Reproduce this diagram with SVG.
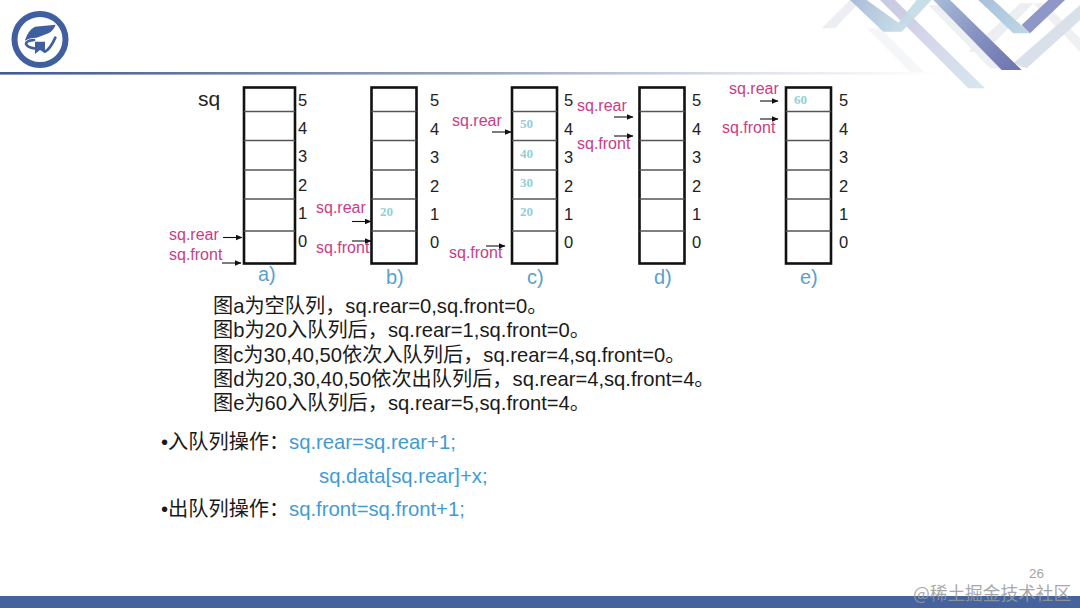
<svg xmlns="http://www.w3.org/2000/svg" width="1080" height="608" viewBox="0 0 1080 608">
<defs>
<style>
text{font-family:"Liberation Sans","Noto Sans CJK SC",sans-serif}
.box{fill:#fff;stroke:#111;stroke-width:2.6}
.div{stroke:#555;stroke-width:1.3}
.n{font-size:16.5px;fill:#222}
.p{font-size:16px;fill:#c93d86}
.v{font-family:"Liberation Serif",serif;font-size:13px;font-weight:bold;fill:#8fd0d8}
.cap{font-size:20px;fill:#5a9fd0}
.t{font-size:20.2px;fill:#1a1a1a}
.code{font-size:20.3px;fill:#3f9bd6}
.arr{stroke:#111;stroke-width:1.1;fill:none;marker-end:url(#ah)}
</style>
<marker id="ah" markerUnits="userSpaceOnUse" markerWidth="7" markerHeight="6" refX="6.5" refY="3" orient="auto"><path d="M0 0L7 3L0 6Z" fill="#111"/></marker>
<linearGradient id="rule" x1="0" x2="1" y1="0" y2="0"><stop offset="0" stop-color="#3f5a98"/><stop offset=".2" stop-color="#64769f"/><stop offset=".5" stop-color="#9aa6bd"/><stop offset=".8" stop-color="#dfe3ea"/><stop offset="1" stop-color="#fff"/></linearGradient>
<linearGradient id="g1" gradientUnits="userSpaceOnUse" x1="400" y1="0" x2="640" y2="210"><stop offset="0" stop-color="#a9bcd9"/><stop offset=".5" stop-color="#8793c2"/><stop offset="1" stop-color="#6e76b0"/></linearGradient>
<linearGradient id="g2" gradientUnits="userSpaceOnUse" x1="150" y1="0" x2="300" y2="95"><stop offset="0" stop-color="#a5b7d6"/><stop offset="1" stop-color="#c3dbe6"/></linearGradient>
<linearGradient id="g3" gradientUnits="userSpaceOnUse" x1="260" y1="0" x2="530" y2="265"><stop offset="0" stop-color="#c9c9e2"/><stop offset=".5" stop-color="#d6d8ea"/><stop offset="1" stop-color="#d6e6ee"/></linearGradient>
<linearGradient id="g4" gradientUnits="userSpaceOnUse" x1="540" y1="0" x2="680" y2="95"><stop offset="0" stop-color="#a9bfdc"/><stop offset="1" stop-color="#bcd8e4"/></linearGradient>
</defs>
<rect width="1080" height="608" fill="#fff"/>
<g id="header">
<rect x="0" y="72" width="940" height="2.600" fill="url(#rule)"/>
<g id="ribbons" transform="translate(800 0) scale(.33333)">
<polygon points="65,85 150,0 185,0 105,85" fill="#eceef1"/>
<polygon points="200,85 240,85 370,215 330,215" fill="#f5f6f8"/>
<polygon points="385,15 420,15 610,205 570,205" fill="#eef0f4"/>
<polygon points="505,155 660,10 700,10 555,155" fill="#eceef2"/>
<polygon points="700,10 735,10 840,115 840,155" fill="#eef0f2"/>
<polygon points="640,190 840,15 840,60 680,205" fill="#d9e0ea"/>
<polygon points="240,0 285,0 555,265 505,265" fill="url(#g3)"/>
<polygon points="150,0 200,0 295,68 350,0 395,0 305,95 250,95" fill="url(#g2)" opacity=".92"/>
<polygon points="400,0 450,0 665,210 605,210" fill="url(#g1)"/>
<polygon points="535,0 580,0 690,100 640,100" fill="url(#g4)"/>
<polygon points="665,75 745,0 795,0 690,100" fill="#8e97c6"/>
</g>
<g id="logo">
<circle cx="40" cy="39.500" r="25.500" fill="#fff" stroke="#3f5f9e" stroke-width="6"/>
<g transform="scale(.33333)" fill="#3f5f9e">
<path d="M75 120Q85 90 105 80L167 74Q160 92 145 100L110 113Q88 113 75 122Z"/>
<path d="M105 125H135V160L120 150L105 162Z"/>
<path d="M102 120Q78 122 78 132Q82 142 103 145M135 155Q150 148 166 113" fill="none" stroke="#3f5f9e" stroke-width="8" stroke-linecap="round"/>
</g>
</g>
</g>
<g id="queue-a">
<rect class="box" x="244" y="87.500" width="51" height="176"/>
<path class="div" d="M244 111.500H295M244 140.500H295M244 170H295M244 199H295M244 231H295"/>
<text x="198" y="106" font-size="21" fill="#222">sq</text>
<text class="n" x="298" y="106">5</text><text class="n" x="298" y="134">4</text><text class="n" x="298" y="162">3</text><text class="n" x="298" y="191">2</text><text class="n" x="298" y="219">1</text><text class="n" x="298" y="247">0</text>
<text class="p" x="169" y="240">sq.rear</text><text class="p" x="169" y="260">sq.front</text>
<text class="cap" x="258" y="281">a)</text>
</g>
<g id="queue-b">
<rect class="box" x="371.500" y="87.500" width="45" height="176"/>
<path class="div" d="M371.500 111.500H416.500M371.500 140.500H416.500M371.500 170H416.500M371.500 199H416.500M371.500 231H416.500"/>
<text class="n" x="430" y="106">5</text><text class="n" x="430" y="135">4</text><text class="n" x="430" y="163">3</text><text class="n" x="430" y="192">2</text><text class="n" x="430" y="220">1</text><text class="n" x="430" y="248">0</text>
<text class="p" x="316" y="213">sq.rear</text><text class="p" x="316" y="253">sq.front</text>
<text class="v" x="380" y="216">20</text>
<text class="cap" x="386" y="284">b)</text>
</g>
<g id="queue-c">
<rect class="box" x="512" y="87.500" width="45" height="176"/>
<path class="div" d="M512 111.500H557M512 140.500H557M512 170H557M512 199H557M512 231H557"/>
<text class="n" x="564" y="106">5</text><text class="n" x="564" y="135">4</text><text class="n" x="564" y="163">3</text><text class="n" x="564" y="192">2</text><text class="n" x="564" y="220">1</text><text class="n" x="564" y="248">0</text>
<text class="p" x="452" y="126">sq.rear</text><text class="p" x="449" y="258">sq.front</text>
<text class="v" x="520" y="128">50</text><text class="v" x="520" y="158">40</text><text class="v" x="520" y="187">30</text><text class="v" x="520" y="216">20</text>
<text class="cap" x="527" y="284">c)</text>
</g>
<g id="queue-d">
<rect class="box" x="639.500" y="87.500" width="45" height="176"/>
<path class="div" d="M639.500 111.500H684.500M639.500 140.500H684.500M639.500 170H684.500M639.500 199H684.500M639.500 231H684.500"/>
<text class="n" x="692" y="106">5</text><text class="n" x="692" y="135">4</text><text class="n" x="692" y="163">3</text><text class="n" x="692" y="192">2</text><text class="n" x="692" y="220">1</text><text class="n" x="692" y="248">0</text>
<text class="p" x="577" y="111">sq.rear</text><text class="p" x="577" y="149">sq.front</text>
<text class="cap" x="654" y="284">d)</text>
</g>
<g id="queue-e">
<rect class="box" x="786" y="87.500" width="45" height="176"/>
<path class="div" d="M786 111.500H831M786 140.500H831M786 170H831M786 199H831M786 231H831"/>
<text class="n" x="839" y="106">5</text><text class="n" x="839" y="135">4</text><text class="n" x="839" y="163">3</text><text class="n" x="839" y="192">2</text><text class="n" x="839" y="220">1</text><text class="n" x="839" y="248">0</text>
<text class="p" x="729" y="94">sq.rear</text><text class="p" x="722" y="133">sq.front</text>
<text class="v" x="794" y="104">60</text>
<text class="cap" x="800" y="284">e)</text>
</g>
<g id="connectors">
<path class="arr" d="M223 237.500H242"/><path class="arr" d="M222 263H241"/>
<path class="arr" d="M352 221.500H371"/><path class="arr" d="M352 241H371"/>
<path class="arr" d="M492 132H511"/><path class="arr" d="M486 246H505"/>
<path class="arr" d="M614 117H633"/><path class="arr" d="M614 136H633"/>
<path class="arr" d="M760 101H778"/><path class="arr" d="M760 119H778"/>
</g>
<g id="notes">
<text class="t" x="213" y="313">图a为空队列，sq.rear=0,sq.front=0。</text>
<text class="t" x="213" y="337">图b为20入队列后，sq.rear=1,sq.front=0。</text>
<text class="t" x="213" y="362">图c为30,40,50依次入队列后，sq.rear=4,sq.front=0。</text>
<text class="t" x="213" y="386">图d为20,30,40,50依次出队列后，sq.rear=4,sq.front=4。</text>
<text class="t" x="213" y="410">图e为60入队列后，sq.rear=5,sq.front=4。</text>
<text class="t" x="161" y="449">•入队列操作：</text><text class="code" x="289" y="449">sq.rear=sq.rear+1;</text>
<text class="code" x="319" y="483">sq.data[sq.rear]+x;</text>
<text class="t" x="161" y="516">•出队列操作：</text><text class="code" x="289" y="516">sq.front=sq.front+1;</text>
</g>
<g id="footer">
<rect x="0" y="596" width="1080" height="12" fill="#44639f"/>
<text x="1029" y="578" font-size="13.500" fill="#a3a3a3">26</text>
<text x="913" y="600" font-size="17.700" fill="#9a9a9a" opacity=".85" style="font-family:'Noto Sans CJK SC',sans-serif">@稀土掘金技术社区</text>
</g>
</svg>
